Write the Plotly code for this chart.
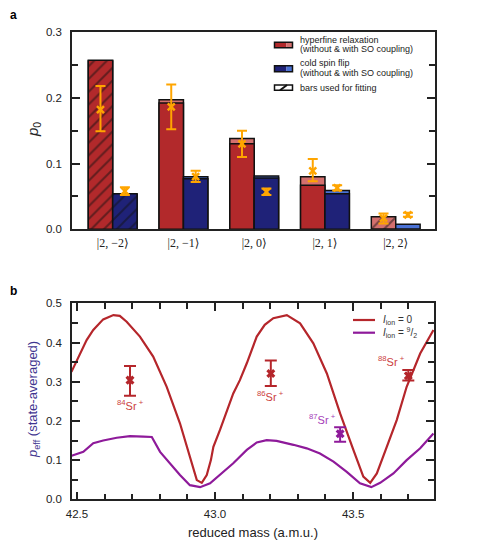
import plotly.graph_objects as go

# ---------------- panel a data ----------------
states = ["|2, \u22122\u27e9", "|2, \u22121\u27e9", "|2, 0\u27e9", "|2, 1\u27e9", "|2, 2\u27e9"]
hf_without = [0.257, 0.192, 0.130, 0.067, 0.0]
hf_with = [0.256, 0.197, 0.138, 0.080, 0.019]
sf_without = [0.054, 0.077, 0.078, 0.054, 0.0]
sf_with = [0.053, 0.080, 0.081, 0.059, 0.0076]
hf_fit = [True, False, False, False, True]
sf_fit = [True, False, False, False, False]

hf_exp = [0.182, 0.186, 0.130, 0.089, 0.017]
hf_exp_hi = [0.218, 0.220, 0.150, 0.107, 0.024]
hf_exp_lo = [0.149, 0.152, 0.110, 0.073, 0.009]
sf_exp = [0.058, 0.080, 0.057, 0.063, 0.022]
sf_exp_hi = [0.064, 0.089, 0.062, 0.067, 0.025]
sf_exp_lo = [0.052, 0.072, 0.052, 0.059, 0.019]

# ---------------- panel b data ----------------
mass_i0 = [42.48, 42.50, 42.535, 42.559, 42.595, 42.632, 42.655, 42.68, 42.728, 42.776,
           42.825, 42.873, 42.909, 42.934, 42.952, 42.97, 42.985, 42.994, 43.018, 43.066,
           43.09, 43.115, 43.151, 43.18, 43.211, 43.26, 43.308, 43.356, 43.405, 43.453,
           43.501, 43.537, 43.562, 43.586, 43.622, 43.658, 43.694, 43.743, 43.791]
peff_i0 = [0.325, 0.355, 0.406, 0.432, 0.459, 0.470, 0.468, 0.453, 0.415, 0.364,
           0.287, 0.194, 0.109, 0.049, 0.042, 0.062, 0.100, 0.134, 0.177, 0.270,
           0.304, 0.347, 0.415, 0.445, 0.462, 0.470, 0.449, 0.398, 0.321, 0.219,
           0.126, 0.058, 0.042, 0.066, 0.134, 0.202, 0.287, 0.372, 0.432]

mass_i92 = [42.48, 42.50, 42.523, 42.559, 42.595, 42.644, 42.692, 42.74, 42.771, 42.801,
            42.837, 42.873, 42.909, 42.946, 42.982, 43.018, 43.066, 43.115, 43.151, 43.187,
            43.223, 43.284, 43.332, 43.38, 43.429, 43.477, 43.525, 43.566, 43.598, 43.646,
            43.694, 43.743, 43.791]
peff_i92 = [0.111, 0.116, 0.121, 0.143, 0.150, 0.157, 0.161, 0.160, 0.159, 0.121,
            0.092, 0.062, 0.036, 0.031, 0.041, 0.062, 0.092, 0.126, 0.145, 0.151,
            0.149, 0.139, 0.130, 0.117, 0.096, 0.070, 0.041, 0.031, 0.042, 0.066,
            0.100, 0.130, 0.168]

iso_names = ["84", "86", "87", "88"]
iso_mass = [42.692, 43.202, 43.453, 43.700]
iso_peff = [0.304, 0.321, 0.167, 0.315]
iso_hi = [0.340, 0.354, 0.184, 0.330]
iso_lo = [0.264, 0.289, 0.147, 0.303]
iso_label_x = [42.694, 43.200, 43.39, 43.64]
iso_label_y = [0.240, 0.263, 0.206, 0.354]

# ---------------- styles ----------------
FONT = "Liberation Sans, Arial, sans-serif"
RED_D, RED_L = "#b2292b", "#d4706e"
BLUE_D, BLUE_L = "#1f2278", "#4a72d6"
ORANGE = "#ffa500"
CURVE_RED, CURVE_PUR = "#b5262b", "#8e1a9a"
LBL_RED, LBL_PUR = "#cc4040", "#a53cb8"
PAGE = 8  # default body margin of the html page
W, H = 480 - PAGE, 541 - PAGE


def px(x):
    return (x - PAGE) / W


def py(y):
    return 1 - (y - PAGE) / H


def note(x, y, text, size, color="#222", xanchor="center", angle=0):
    return dict(x=px(x), y=py(y), xref="paper", yref="paper", showarrow=False,
                xanchor=xanchor, yanchor="middle", textangle=angle, text=text,
                font=dict(family=FONT, size=size, color=color))


positions = list(range(len(states)))
bw = 0.345
edge = dict(color="#111111", width=1.5)


def pattern(flags):
    return dict(shape=["/" if f else "" for f in flags], fgcolor="#111111",
                size=9, solidity=0.22)


fig = go.Figure()

# panel a bars: light (with SO) underneath, dark (without SO) on top
fig.add_trace(go.Bar(x=positions, y=hf_with, width=bw, offset=-bw,
                     marker=dict(color=RED_L, line=edge, pattern=pattern(hf_fit))))
fig.add_trace(go.Bar(x=positions, y=hf_without, width=bw, offset=-bw,
                     marker=dict(color=RED_D, line=edge, pattern=pattern(hf_fit))))
fig.add_trace(go.Bar(x=positions, y=sf_with, width=bw, offset=0,
                     marker=dict(color=BLUE_L, line=edge, pattern=pattern(sf_fit))))
fig.add_trace(go.Bar(x=positions, y=sf_without, width=bw, offset=0,
                     marker=dict(color=BLUE_D, line=edge, pattern=pattern(sf_fit))))

for offs, v, hi, lo in [(-bw / 2, hf_exp, hf_exp_hi, hf_exp_lo),
                        (bw / 2, sf_exp, sf_exp_hi, sf_exp_lo)]:
    fig.add_trace(go.Scatter(
        x=[p + offs for p in positions], y=v, mode="markers",
        marker=dict(symbol="x-thin", size=7, color=ORANGE, line=dict(color=ORANGE, width=2.5)),
        error_y=dict(type="data", symmetric=False,
                     array=[h - c for h, c in zip(hi, v)],
                     arrayminus=[c - l for c, l in zip(v, lo)],
                     color=ORANGE, thickness=2, width=5)))

# panel b curves
fig.add_trace(go.Scatter(x=mass_i0, y=peff_i0, mode="lines", xaxis="x2", yaxis="y2",
                         line=dict(color=CURVE_RED, width=2.2)))
fig.add_trace(go.Scatter(x=mass_i92, y=peff_i92, mode="lines", xaxis="x2", yaxis="y2",
                         line=dict(color=CURVE_PUR, width=2.2)))
iso_cols = [CURVE_RED, CURVE_RED, CURVE_PUR, CURVE_RED]
for i in range(len(iso_names)):
    fig.add_trace(go.Scatter(
        x=[iso_mass[i]], y=[iso_peff[i]], mode="markers", xaxis="x2", yaxis="y2",
        marker=dict(symbol="x", size=8, color=iso_cols[i]),
        error_y=dict(type="data", symmetric=False, array=[iso_hi[i] - iso_peff[i]],
                     arrayminus=[iso_peff[i] - iso_lo[i]], thickness=2, width=6,
                     color=iso_cols[i])))

annotations = []
for n, lx, ly, col in zip(iso_names, iso_label_x, iso_label_y,
                          [LBL_RED, LBL_RED, LBL_PUR, LBL_RED]):
    annotations.append(dict(x=lx, y=ly, xref="x2", yref="y2", showarrow=False,
                            xanchor="center", yanchor="middle",
                            text=f"<sup>{n}</sup>Sr<sup> +</sup>",
                            font=dict(family=FONT, size=11, color=col)))

# panel labels
annotations.append(note(8, 15, "<b>a</b>", 12, "black", xanchor="left"))
annotations.append(note(8, 291, "<b>b</b>", 12, "black", xanchor="left"))

# axis titles
annotations.append(note(33, 130, "<i>p</i><sub>0</sub>", 15, angle=-90))
annotations.append(note(33, 400, "<i>p</i><sub>eff</sub> (state-averaged)", 13,
                        "#3f3590", angle=-90))
annotations.append(note(253, 532, "reduced mass (a.m.u.)", 13))

# panel a legend
shapes = []
leg_a = [(42.3, 47.7, RED_D, RED_L,
          ["hyperfine relaxation", "(without & with SO coupling)"], [40.0, 49.5]),
         (65.7, 71.7, BLUE_D, BLUE_L,
          ["cold spin flip", "(without & with SO coupling)"], [63.3, 72.8])]
for y0, y1, cd, cl, lines, ys in leg_a:
    shapes.append(dict(type="rect", xref="paper", yref="paper", x0=px(274.5), x1=px(286.5),
                       y0=py(y1), y1=py(y0), fillcolor=cd, line=dict(width=0)))
    shapes.append(dict(type="rect", xref="paper", yref="paper", x0=px(286.5), x1=px(292.5),
                       y0=py(y1), y1=py(y0), fillcolor=cl, line=dict(width=0)))
    shapes.append(dict(type="rect", xref="paper", yref="paper", x0=px(274.5), x1=px(292.5),
                       y0=py(y1), y1=py(y0), line=dict(color="#111", width=1.5)))
    for t, yy in zip(lines, ys):
        annotations.append(note(298, yy, t, 9, xanchor="left"))
shapes.append(dict(type="rect", xref="paper", yref="paper", x0=px(274.5), x1=px(292.5),
                   y0=py(90.3), y1=py(85), fillcolor="white", line=dict(color="#111", width=1.5)))
shapes.append(dict(type="line", xref="paper", yref="paper", x0=px(280), x1=px(287),
                   y0=py(90.3), y1=py(85), line=dict(color="#111", width=2)))
annotations.append(note(298, 87.5, "bars used for fitting", 9, xanchor="left"))

# panel b legend
for yy, col, t in [(320, CURVE_RED, "<i>I</i><sub>ion</sub> = 0"),
                   (332.7, CURVE_PUR, "<i>I</i><sub>ion</sub> = <sup>9</sup>/<sub>2</sub>")]:
    shapes.append(dict(type="line", xref="paper", yref="paper", x0=px(353), x1=px(375),
                       y0=py(yy), y1=py(yy), line=dict(color=col, width=2.2)))
    annotations.append(note(381, yy, t, 10, "#333", xanchor="left"))

axis_common = dict(showline=True, linecolor="#222", linewidth=1.5, mirror="ticks",
                   ticks="inside", tickcolor="#222", tickwidth=1.5, ticklen=8,
                   showgrid=False, zeroline=False, automargin=False,
                   tickfont=dict(family=FONT, size=11.5, color="#222"))

fig.update_layout(
    width=W, height=H, showlegend=False, barmode="overlay",
    plot_bgcolor="white", paper_bgcolor="white",
    margin=dict(l=0, r=0, t=0, b=0),
    font=dict(family=FONT, color="#222"),
    xaxis=dict(axis_common, domain=[px(72), px(435)], range=[-0.575, 4.555],
               tickvals=positions, ticktext=states, ticks="", mirror=True,
               ticklabelstandoff=2,
               tickfont=dict(family="Liberation Serif, DejaVu Serif, serif", size=12, color="#222")),
    yaxis=dict(axis_common, domain=[py(229.3), py(32)], range=[0, 0.3], dtick=0.1,
               tickformat=".1f", ticklabelstandoff=6,
               minor=dict(dtick=0.05, ticks="inside", ticklen=6,
                          tickcolor="#222", tickwidth=1.5)),
    xaxis2=dict(axis_common, domain=[px(72), px(434)], range=[42.482, 43.793], anchor="y2",
                dtick=0.5, tick0=42.5, tickformat=".1f", ticklabelstandoff=3,
                minor=dict(dtick=0.1, tick0=42.5, ticks="inside", ticklen=6,
                           tickcolor="#222", tickwidth=1.5)),
    yaxis2=dict(axis_common, domain=[py(499.3), py(303.3)], range=[0, 0.5], anchor="x2",
                dtick=0.1, tickformat=".1f", ticklabelstandoff=6,
                minor=dict(dtick=0.05, ticks="inside", ticklen=6,
                           tickcolor="#222", tickwidth=1.5)),
    shapes=shapes,
    annotations=annotations,
)

fig.write_html("out.html")
